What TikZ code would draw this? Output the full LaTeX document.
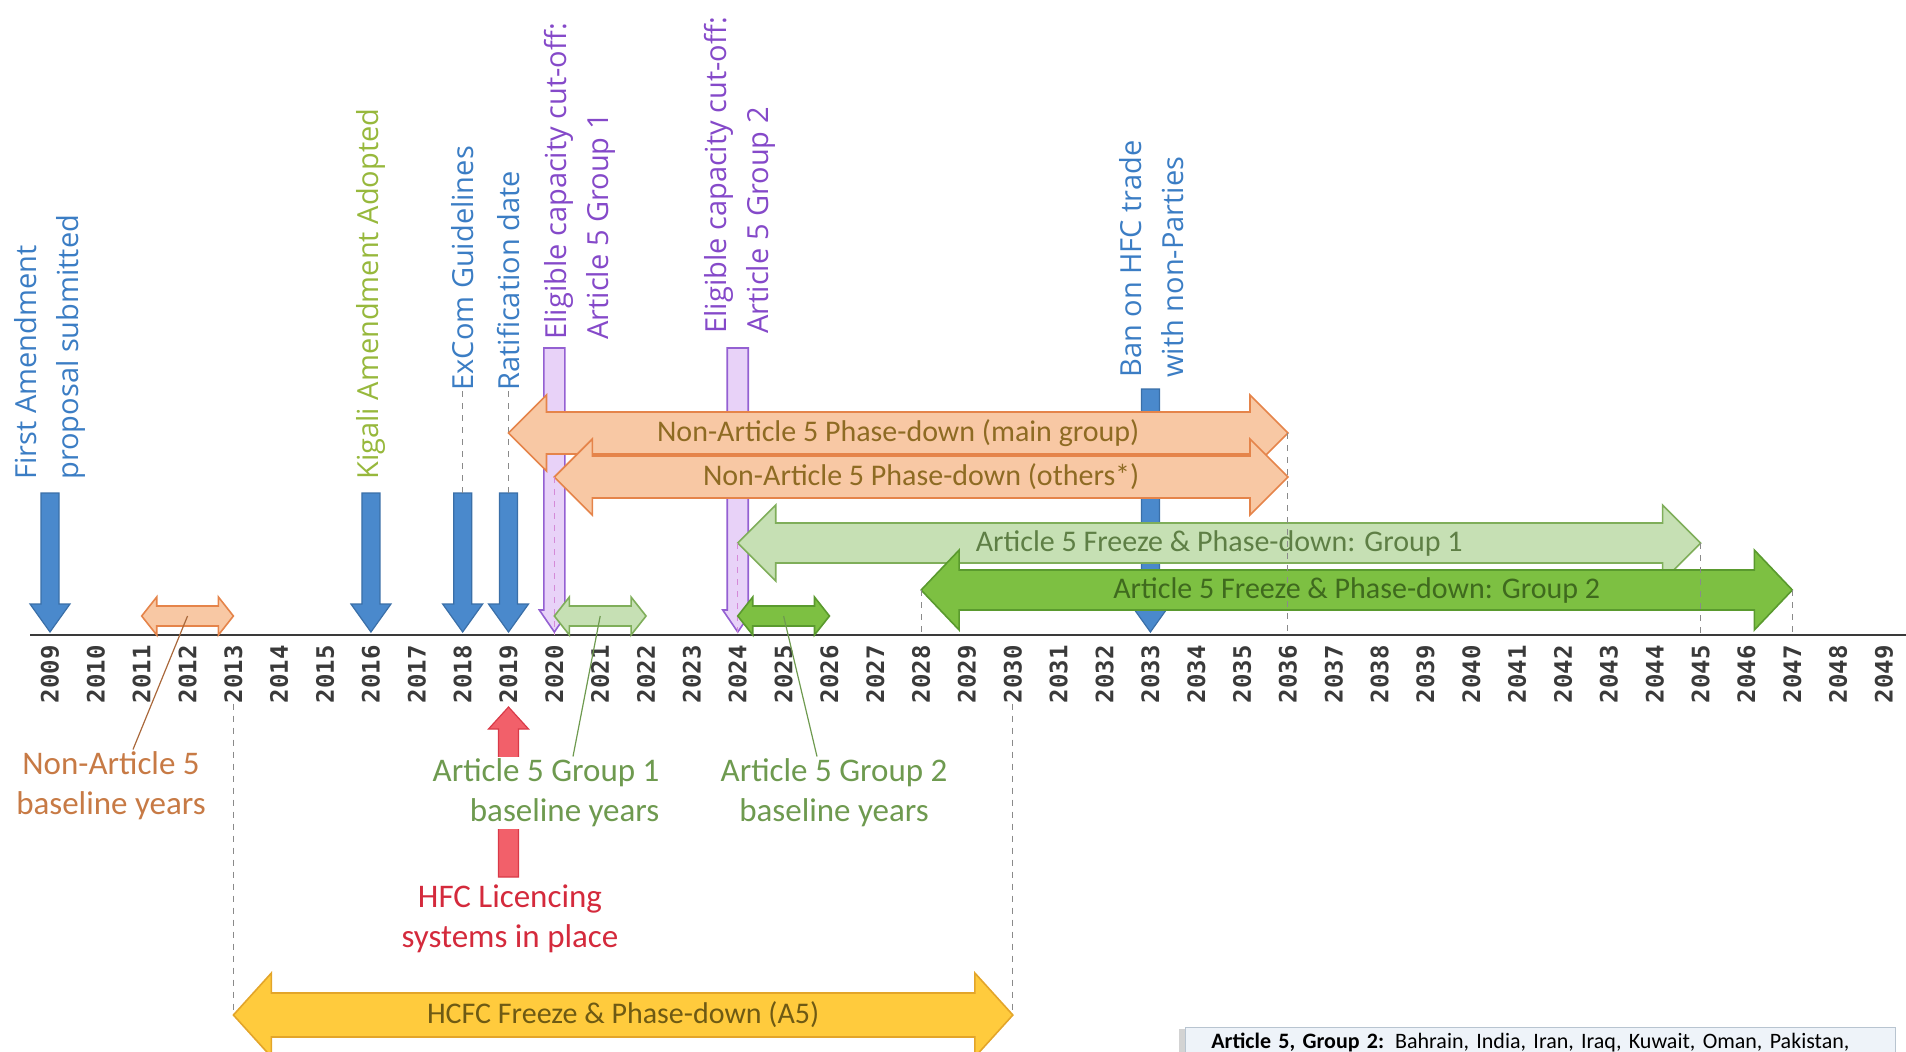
\documentclass[tikz,border=0pt]{standalone}
\usepackage{fontspec}
\setmainfont{Carlito}
\newfontfamily\opensans{Open Sans}
\newfontfamily\yearfont{DejaVu Sans Mono}
\usetikzlibrary{calc,shadows}

\definecolor{bluefill}{HTML}{4A89CC}
\definecolor{blueedge}{HTML}{3A6FA8}
\definecolor{bluetxt}{HTML}{3B7DC4}
\definecolor{kigalitxt}{HTML}{97B83C}
\definecolor{lilacfill}{HTML}{E8D2F8}
\definecolor{lilacedge}{HTML}{9460D2}
\definecolor{lilactxt}{HTML}{8549C9}
\definecolor{peachfill}{HTML}{F8C8A4}
\definecolor{peachedge}{HTML}{E5844A}
\definecolor{peachtxt}{HTML}{8E6B23}
\definecolor{sagefill}{HTML}{C6E0B4}
\definecolor{sageedge}{HTML}{7FAE5A}
\definecolor{sagetxt}{HTML}{5E7F45}
\definecolor{leaffill}{HTML}{7DC042}
\definecolor{leafedge}{HTML}{5A9A2E}
\definecolor{leaftxt}{HTML}{3F6A1E}
\definecolor{goldfill}{HTML}{FFCB3D}
\definecolor{goldedge}{HTML}{E3A52A}
\definecolor{goldtxt}{HTML}{6E5A14}
\definecolor{redfill}{HTML}{F2606A}
\definecolor{rededge}{HTML}{D93A48}
\definecolor{redtxt}{HTML}{D42A3C}
\definecolor{nontxt}{HTML}{C77A45}
\definecolor{basetxt}{HTML}{6E9A4F}
\definecolor{guidegray}{HTML}{8A8A8A}
\definecolor{pinkguide}{HTML}{D48AD8}
\definecolor{yeargray}{HTML}{3A3A3A}
\definecolor{notefill}{HTML}{EEF3F9}
\definecolor{noteedge}{HTML}{B8C4D0}

% x position of a year
\newcommand{\yr}[1]{(50+(#1-2009)*45.85)}
% band with a head at both ends: name, style, left x, right x, mid y, half shaft, half head, head length
\newcommand{\band}[8]{%
  \draw[#2] ({#3},{#5}) -- ({#3+#8},{#5-#7}) -- ({#3+#8},{#5-#6}) -- ({#4-#8},{#5-#6})
    -- ({#4-#8},{#5-#7}) -- ({#4},{#5}) -- ({#4-#8},{#5+#7}) -- ({#4-#8},{#5+#6})
    -- ({#3+#8},{#5+#6}) -- ({#3+#8},{#5+#7}) -- cycle;
  \coordinate (#1-w) at ({#3},{#5});
  \coordinate (#1-e) at ({#4},{#5});
  \coordinate (#1-c) at ({(#3+#4)/2},{#5});}
% upright arrow: name, style, x, tail y, tip y, half shaft, half head, head length
\newcommand{\pin}[8]{%
  \draw[#2] ({#3-#6},{#4}) -- ({#3+#6},{#4}) -- ({#3+#6},{#5-(#8)}) -- ({#3+#7},{#5-(#8)})
    -- ({#3},{#5}) -- ({#3-#7},{#5-(#8)}) -- ({#3-#6},{#5-(#8)}) -- cycle;
  \coordinate (#1-tail) at ({#3},{#4});
  \coordinate (#1-tip) at ({#3},{#5});}

\begin{document}
\begin{tikzpicture}[x=0.5pt, y=-0.5pt,
  yearlbl/.style={rotate=90, anchor=east, inner sep=0pt, text=yeargray,
    font=\yearfont\bfseries\fontsize{12}{14}\selectfont},
  evlbl/.style={rotate=90, anchor=west, align=left, inner sep=0pt,
    font=\opensans\fontsize{14.5}{21}\selectfont},
  bandtxt/.style={inner sep=0pt, font=\fontsize{15}{18}\selectfont},
  baselbl/.style={inner sep=1pt, align=center, font=\fontsize{16.5}{20}\selectfont},
  guide/.style={guidegray, dashed, line width=0.5pt},
  bluepin/.style={fill=bluefill, draw=blueedge, line width=0.6pt},
  lilacpin/.style={fill=lilacfill, draw=lilacedge, line width=0.8pt},
  peach/.style={fill=peachfill, draw=peachedge, line width=0.8pt},
  sage/.style={fill=sagefill, draw=sageedge, line width=0.8pt},
  leaf/.style={fill=leaffill, draw=leafedge, line width=0.8pt},
  gold/.style={fill=goldfill, draw=goldedge, line width=0.8pt},
  redpin/.style={fill=redfill, draw=rededge, line width=0.6pt},
  notebox/.style={draw=noteedge, fill=notefill, anchor=north west, align=left,
    text width=329pt, inner xsep=13pt, inner ysep=3pt, text depth=40pt,
    font=\fontsize{11}{12}\selectfont,
    drop shadow={shadow xshift=-3pt, shadow yshift=-1pt, opacity=0.35}}]
\useasboundingbox (0,0) rectangle (1906,1051);
\clip (0,0) rectangle (1906,1051);

% time axis
\coordinate (axisL) at (30,635);
\coordinate (axisR) at (1906,635);
\draw[yeargray, line width=1pt] (axisL) -- (axisR);
\foreach \y in {2009,...,2049}{
  \coordinate (t\y) at ({\yr{\y}},635);
  \node[yearlbl] (y\y) at ({\yr{\y}},645) {\y};
}

% events
\foreach \n/\y in {first/2009,kigali/2016,excom/2018,ratif/2019}
  {\pin{\n}{bluepin}{\yr{\y}}{493}{632}{9}{20}{28}}
\pin{ban}{bluepin}{\yr{2033}}{389}{632}{9}{20}{28}
\pin{cutA}{lilacpin}{\yr{2020}}{348}{632}{10.5}{15}{22}
\pin{cutB}{lilacpin}{\yr{2024}}{348}{632}{10.5}{15}{22}

\node[evlbl, text=bluetxt] (firstlbl) at ({\yr{2009}},480) {First Amendment\\proposal submitted};
\node[evlbl, text=kigalitxt] (kigalilbl) at ({\yr{2016}},480) {Kigali Amendment Adopted};
\node[evlbl, text=bluetxt] (excomlbl) at ({\yr{2018}},391) {ExCom Guidelines};
\node[evlbl, text=bluetxt] (ratiflbl) at ({\yr{2019}},391) {Ratification date};
\node[evlbl, text=lilactxt] (cutAlbl) at (580,340) {Eligible capacity cut-off:\\Article 5 Group 1};
\node[evlbl, text=lilactxt] (cutBlbl) at (740,334) {Eligible capacity cut-off:\\Article 5 Group 2};
\node[evlbl, text=bluetxt] (banlbl) at (1152,378) {Ban on HFC trade\\with non-Parties};
\draw[guide] (excomlbl.west) -- (excom-tail);
\draw[guide] (ratiflbl.west) -- (ratif-tail);

% phase-down
\band{main}{peach}{\yr{2019}}{\yr{2036}}{433}{21}{38}{38}
\band{others}{peach}{\yr{2020}}{\yr{2036}}{477}{21}{38}{38}
\band{grpA}{sage}{\yr{2024}}{\yr{2045}}{543}{20}{38}{38}
\band{grpB}{leaf}{\yr{2028}}{\yr{2047}}{590}{20}{40}{38}
\band{hcfc}{gold}{\yr{2013}}{\yr{2030}}{1015}{22}{42}{38}

\draw[guide] (main-e) -- (t2036);
\draw[guide] (grpA-e) -- (t2045);
\draw[guide] (grpB-w) -- (t2028);
\draw[guide] (grpB-e) -- (t2047);
\draw[guide] (y2013.west) -- (hcfc-w);
\draw[guide] (y2030.west) -- (hcfc-e);
\draw[guide, pinkguide] (others-w) -- (t2020);
\draw[guide, pinkguide] (grpA-w) -- (t2024);

\node[bandtxt, text=peachtxt] (mainlbl) at (main-c) {Non-Article 5 Phase-down (main group)};
\node[bandtxt, text=peachtxt] (otherslbl) at (others-c) {Non-Article 5 Phase-down (others*)};
\node[bandtxt, text=sagetxt] (grpAlbl) at (grpA-c) {Article 5 Freeze \& Phase-down: Group 1};
\node[bandtxt, text=leaftxt] (grpBlbl) at (grpB-c) {Article 5 Freeze \& Phase-down: Group 2};
\node[bandtxt, text=goldtxt] (hcfclbl) at (hcfc-c) {HCFC Freeze \& Phase-down (A5)};

% baseline years
\band{nonbase}{peach}{\yr{2011}}{\yr{2013}}{616}{10}{19}{15}
\band{grpAbase}{sage}{\yr{2020}}{\yr{2022}}{616}{10}{19}{15}
\band{grpBbase}{leaf}{\yr{2024}}{\yr{2026}}{616}{10}{19}{15}
\pin{licence}{redpin}{\yr{2019}}{877}{707}{10}{20}{-22}

\node[baselbl, text=nontxt] (nonlbl) at (111,786) {Non-Article 5\\baseline years};
\node[baselbl, text=basetxt, align=right, fill=white] (a5g1lbl) at (546,793) {Article 5 Group 1\\baseline years};
\node[baselbl, text=basetxt] (a5g2lbl) at (834,793) {Article 5 Group 2\\baseline years};
\node[baselbl, text=redtxt] (hfclbl) at (510,919) {HFC Licencing\\systems in place};
\draw[nontxt!85!black, line width=0.6pt] ($(nonlbl.north)+(22,0)$) -- (nonbase-c);
\draw[basetxt, line width=0.6pt] ($(a5g1lbl.north)+(27,0)$) -- (grpAbase-c);
\draw[basetxt, line width=0.6pt] ($(a5g2lbl.north)+(-17,0)$) -- (grpBbase-c);

% note
\node[notebox] (note) at (1185,1027) {\textbf{Article 5, Group 2:} Bahrain, India, Iran, Iraq, Kuwait, Oman, Pakistan,};
\end{tikzpicture}
\end{document}
